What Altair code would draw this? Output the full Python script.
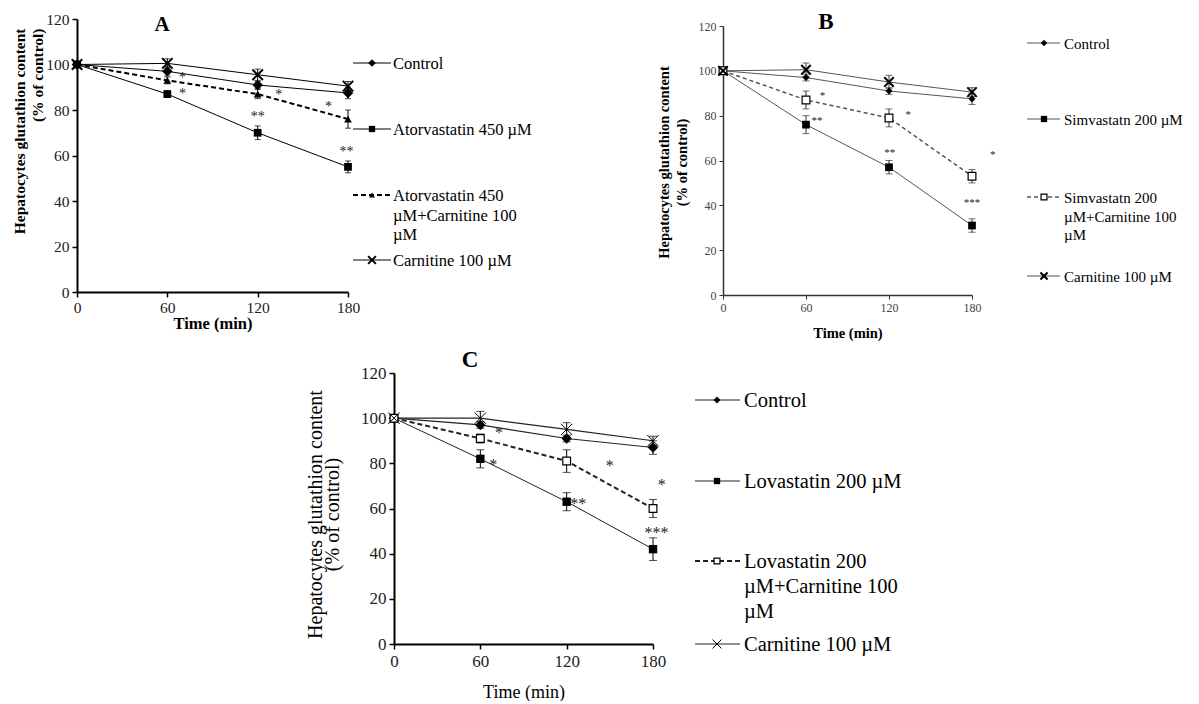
import altair as alt
import pandas as pd

FONT = "Liberation Serif"
XPATH = "M-1,-1L1,1M-1,1L1,-1"

time_min = [0, 60, 120, 180]
x_ticks = [0, 60, 120, 180]
y_ticks = [0, 20, 40, 60, 80, 100, 120]

# ---------------- Panel A ----------------
a_control = [100, 97, 91, 87.5]
a_control_err = [0, 2, 1.5, 2.5]
a_ator = [100, 87, 70, 55]
a_ator_err = [0, 1.5, 3, 2.6]
a_atorcarn = [100, 93, 87, 76]
a_atorcarn_err = [0, 1.5, 2, 4]
a_carn = [100, 100.5, 95.5, 90.5]
a_carn_err = [0, 2, 2.5, 2]
a_star_x = [70, 70, 134, 167, 120, 179]
a_star_y = [96, 89, 88.5, 83, 78.5, 63.5]
a_star_t = ["*", "*", "*", "*", "**", "**"]
a_legend = [["Control"], ["Atorvastatin 450 µM"],
            ["Atorvastatin 450", "µM+Carnitine 100", "µM"], ["Carnitine 100 µM"]]

# ---------------- Panel B ----------------
b_control = [100, 97, 91, 87.5]
b_control_err = [0, 1.5, 1.5, 2.5]
b_simva = [100, 76, 57, 31]
b_simva_err = [0, 4, 3, 3]
b_simcarn = [100, 87, 79, 53]
b_simcarn_err = [0, 4, 4, 3]
b_carn = [100, 100.5, 95, 90.5]
b_carn_err = [0, 3, 3, 2]
b_star_x = [72, 68, 134, 120.5, 195, 180]
b_star_y = [90, 79, 81.5, 64.5, 64, 42.5]
b_star_t = ["*", "**", "*", "**", "*", "***"]
b_legend = [["Control"], ["Simvastatn 200 µM"],
            ["Simvastatn 200", "µM+Carnitine 100", "µM"], ["Carnitine 100 µM"]]

# ---------------- Panel C ----------------
c_control = [100, 97, 91, 87]
c_control_err = [0, 1.5, 1.5, 3]
c_lova = [100, 82, 63, 42]
c_lova_err = [0, 4, 4, 5]
c_lovacarn = [100, 91, 81, 60]
c_lovacarn_err = [0, 2, 5, 4]
c_carn = [100, 100, 95, 90]
c_carn_err = [0, 3, 3, 2]
c_star_x = [73, 69, 128, 150, 186, 182.5]
c_star_y = [95.7, 81.5, 64, 81, 72.5, 51.5]
c_star_t = ["*", "*", "**", "*", "*", "***"]
c_legend = [["Control"], ["Lovastatin 200 µM"],
            ["Lovastatin 200", "µM+Carnitine 100", "µM"], ["Carnitine 100 µM"]]


def marker_kwargs(kind, size, color, sw):
    if kind == "diamond":
        return dict(shape="diamond", filled=True, color=color, size=size, opacity=1)
    if kind == "square":
        return dict(shape="square", filled=True, color=color, size=size, opacity=1)
    if kind == "triangle":
        return dict(shape="triangle-up", filled=True, color=color, size=size, opacity=1)
    if kind == "open":
        return dict(shape="square", filled=True, fill="white", stroke=color,
                    strokeWidth=1.2, size=size, opacity=1)
    return dict(shape=XPATH, filled=False, stroke=color, strokeWidth=sw, size=size, opacity=1)


def panel(p):
    top = p.get("top", 0)
    xaxis = alt.Axis(values=x_ticks, title="Time (min)", grid=False,
                     domainColor=p["axc"], domainWidth=p["dw"], tickColor=p["axc"],
                     tickWidth=p["tw"], tickSize=p["ts"], labelFont=FONT,
                     labelFontSize=p["lfs"], labelColor=p["lc"], labelPadding=p["xlp"],
                     labelFlush=False, labelOverlap=False,
                     titleFont=FONT, titleFontSize=p["xtfs"], titleFontWeight=p["tweight"],
                     titleColor="black", titleX=p["w"] / 2, titleY=p["xty"],
                     titleBaseline="middle", titleAlign="center")
    yaxis = alt.Axis(values=y_ticks, title=["Hepatocytes glutathion content", "(% of control)"],
                     grid=False, domainColor=p["axc"], domainWidth=p["dw"], tickColor=p["axc"],
                     tickWidth=p["tw"], tickSize=p["ts"], labelFont=FONT,
                     labelFontSize=p["lfs"], labelColor=p["lc"], labelPadding=p["ylp"],
                     labelFlush=False, labelOverlap=False,
                     titleFont=FONT, titleFontSize=p["ytfs"], titleFontWeight=p["tweight"],
                     titleColor="black", titleAngle=270, titleX=p["ytx"], titleY=p["yty"] + top,
                     titleAlign=p["ytalign"], titleBaseline="middle",
                     titleLineHeight=p["ytlh"])
    xs = alt.Scale(domain=[0, 180], nice=False)
    if top:
        ys = alt.Scale(domain=[0, 120], nice=False, range=[p["h"] + top, top])
    else:
        ys = alt.Scale(domain=[0, 120], nice=False)
    layers = []
    frames = []
    for s in p["series"]:
        vals, errs = s["vals"], s["err"]
        df = pd.DataFrame({"t": time_min, "v": vals,
                           "lo": [v - e for v, e in zip(vals, errs)],
                           "hi": [v + e for v, e in zip(vals, errs)],
                           "e": errs})
        frames.append(df)
        kw = dict(color=p["linec"], strokeWidth=s["lw"])
        if s.get("dash"):
            kw["strokeDash"] = s["dash"]
        layers.append(alt.Chart(df).mark_line(**kw).encode(
            x=alt.X("t:Q", scale=xs, axis=xaxis), y=alt.Y("v:Q", scale=ys, axis=yaxis)))
    for s, df in zip(p["series"], frames):
        d = df[df["e"] > 0]
        layers.append(alt.Chart(d).mark_rule(color=p["errc"], strokeWidth=1).encode(
            x=alt.X("t:Q", scale=xs, axis=xaxis), y=alt.Y("lo:Q", scale=ys, axis=yaxis), y2="hi:Q"))
        for col in ["lo", "hi"]:
            layers.append(alt.Chart(d).mark_tick(color=p["errc"], thickness=1, size=p["cap"],
                                                 orient="horizontal").encode(
                x=alt.X("t:Q", scale=xs, axis=xaxis), y=alt.Y(col + ":Q", scale=ys, axis=yaxis)))
    for s, df in zip(p["series"], frames):
        layers.append(alt.Chart(df).mark_point(**marker_kwargs(s["mk"], s["ms"], "black", s["xsw"])).encode(
            x=alt.X("t:Q", scale=xs, axis=xaxis), y=alt.Y("v:Q", scale=ys, axis=yaxis)))
    sdf = pd.DataFrame({"x": p["star_x"], "y": p["star_y"], "s": p["star_t"]})
    layers.append(alt.Chart(sdf).mark_text(font=FONT, fontSize=p["sfs"], color="#222",
                                           baseline="middle", dy=p["sdy"]).encode(
        x=alt.X("x:Q", scale=xs, axis=xaxis), y=alt.Y("y:Q", scale=ys, axis=yaxis), text="s:N"))
    one = pd.DataFrame({"k": [0]})
    # panel letter
    layers.append(alt.Chart(one).mark_text(font=FONT, fontSize=p["letfs"], fontWeight="bold",
                                           color="black", baseline="middle", align="center").encode(
        x=alt.value(p["letx"]), y=alt.value(p["lety"] + top), text=alt.value(p["letter"])))
    # legend
    lg = p["lg"]
    for s, lines, sy in zip(p["series"], p["legend"], lg["ys"]):
        sy = sy + top
        kw = dict(color=p["linec"], strokeWidth=s["lw"])
        if s.get("dash"):
            kw["strokeDash"] = s["dash"]
        layers.append(alt.Chart(one).mark_rule(**kw).encode(
            x=alt.value(lg["x1"]), x2=alt.value(lg["x2"]), y=alt.value(sy)))
        layers.append(alt.Chart(one).mark_point(**marker_kwargs(s["mk"], s["lms"], "black", s["xsw"])).encode(
            x=alt.value(lg["mx"]), y=alt.value(sy)))
        for i, txt in enumerate(lines):
            layers.append(alt.Chart(one).mark_text(font=FONT, fontSize=lg["fs"], color="black",
                                                   align="left", baseline="middle").encode(
                x=alt.value(lg["tx"]), y=alt.value(sy + 1 + i * lg["lh"]), text=alt.value(txt)))
    return alt.layer(*layers).properties(width=p["w"], height=p["h"] + top)


A = panel(dict(
    w=271, h=273, axc="black", dw=2, tw=1.5, ts=5, lfs=15.5, lc="#222", xlp=3, ylp=3,
    xtfs=16.5, tweight="bold", xty=31, ytfs=15.5, ytx=-57.5, yty=9, ytalign="right", ytlh=18,
    linec="black", errc="black", cap=6,
    series=[
        dict(vals=a_control, err=a_control_err, lw=1, mk="diamond", ms=110, lms=60, xsw=2),
        dict(vals=a_ator, err=a_ator_err, lw=1, mk="square", ms=60, lms=40, xsw=2),
        dict(vals=a_atorcarn, err=a_atorcarn_err, lw=2, dash=[5, 3], mk="triangle", ms=60, lms=35, xsw=2),
        dict(vals=a_carn, err=a_carn_err, lw=1, mk="x", ms=110, lms=60, xsw=2),
    ],
    star_x=a_star_x, star_y=a_star_y, star_t=a_star_t, sfs=14, sdy=4,
    letter="A", letx=85, lety=6, letfs=21, legend=a_legend,
    lg=dict(x1=276, x2=314, mx=295, tx=316, fs=16.5, lh=19.5, ys=[44, 110, 176, 241]),
))

B = panel(dict(
    top=7,
    w=249, h=269, axc="#333", dw=1.5, tw=1, ts=4, lfs=12, lc="#444", xlp=3, ylp=3,
    xtfs=14.5, tweight="bold", xty=38, ytfs=14.5, ytx=-59, yty=136, ytalign="center", ytlh=18,
    linec="#555", errc="#333", cap=7,
    series=[
        dict(vals=b_control, err=b_control_err, lw=1, mk="diamond", ms=50, lms=40, xsw=2),
        dict(vals=b_simva, err=b_simva_err, lw=1, mk="square", ms=60, lms=40, xsw=2),
        dict(vals=b_simcarn, err=b_simcarn_err, lw=1.5, dash=[4, 3], mk="open", ms=60, lms=35, xsw=2),
        dict(vals=b_carn, err=b_carn_err, lw=1, mk="x", ms=90, lms=50, xsw=2),
    ],
    star_x=b_star_x, star_y=b_star_y, star_t=b_star_t, sfs=11, sdy=3,
    letter="B", letx=103, lety=-4, letfs=23, legend=b_legend,
    lg=dict(x1=304, x2=337, mx=321, tx=341, fs=15, lh=18.5, ys=[17, 93, 171, 250]),
))

C = panel(dict(
    w=259, h=271, axc="black", dw=2, tw=1.5, ts=5, lfs=17, lc="#222", xlp=4, ylp=3,
    xtfs=18, tweight="normal", xty=48, ytfs=20, ytx=-79, yty=141, ytalign="center", ytlh=17.5,
    linec="#222", errc="black", cap=8,
    series=[
        dict(vals=c_control, err=c_control_err, lw=1.2, mk="diamond", ms=110, lms=50, xsw=1),
        dict(vals=c_lova, err=c_lova_err, lw=1, mk="square", ms=70, lms=40, xsw=1),
        dict(vals=c_lovacarn, err=c_lovacarn_err, lw=2, dash=[5, 3], mk="open", ms=60, lms=35, xsw=1),
        dict(vals=c_carn, err=c_carn_err, lw=1.2, mk="x", ms=130, lms=80, xsw=1),
    ],
    star_x=c_star_x, star_y=c_star_y, star_t=c_star_t, sfs=16, sdy=5,
    letter="C", letx=76, lety=-13, letfs=23, legend=c_legend,
    lg=dict(x1=301, x2=346, mx=323, tx=350, fs=20.5, lh=25, ys=[27, 108, 188, 271]),
))

SPACER_W = 228
spacer = alt.Chart(pd.DataFrame({"k": [0]})).mark_rule(strokeOpacity=0).encode(
    x=alt.value(0), x2=alt.value(SPACER_W), y=alt.value(0)).properties(width=SPACER_W, height=10)

chart = alt.vconcat(
    alt.hconcat(A, B, spacing=124),
    alt.hconcat(spacer, C, spacing=0),
    spacing=9,
).properties(
    padding={"left": 4, "top": 3, "right": 0, "bottom": 0}, background="white"
).configure_view(stroke=None)

chart.save("out.html", embed_options={"renderer": "svg", "actions": False})
